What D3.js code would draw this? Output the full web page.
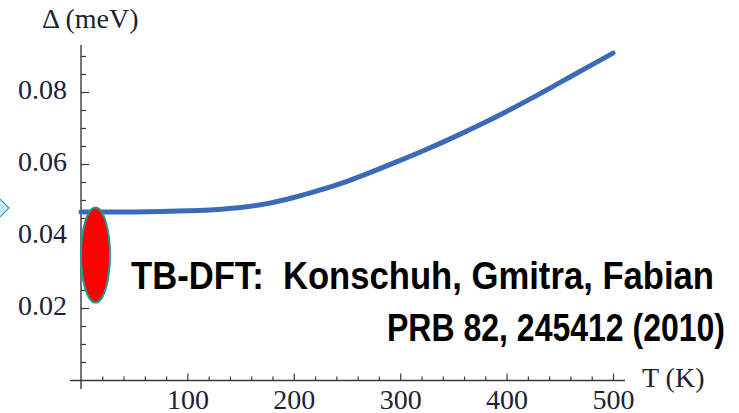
<!DOCTYPE html>
<html>
<head>
<meta charset="utf-8">
<script src="https://cdn.jsdelivr.net/npm/d3@7"></script>
<style>
  html, body { margin: 0; padding: 0; background: #fff; }
  svg { display: block; }
</style>
</head>
<body>
<svg id="chart" width="739" height="413"></svg>
<script>
// Spin-orbit gap versus temperature (tight-binding / DFT)
const temperatures = [0, 25, 50, 75, 100, 125, 150, 175, 200, 225, 250, 275, 300, 325, 350, 375, 400, 425, 450, 475, 500];
const gapValues    = [0.0467, 0.0467, 0.0467, 0.0468, 0.0470, 0.0473, 0.0479, 0.0490, 0.0507, 0.0528, 0.0552, 0.0580, 0.0610, 0.0641, 0.0674, 0.0709, 0.0746, 0.0785, 0.0826, 0.0867, 0.0908];

const xMajorTicks = [100, 200, 300, 400, 500];
const yMajorTicks = [0.02, 0.04, 0.06, 0.08];
const yTickLabels = ["0.02", "0.04", "0.06", "0.08"];

// highlighted low-temperature region (centre T, centre gap, half-width T, half-height gap)
const markerT = [13.6];
const markerGap = [0.0347];
const markerHalfT = [13.6];
const markerHalfGap = [0.0132];

const citationLines = ["TB-DFT:  Konschuh, Gmitra, Fabian", "PRB 82, 245412 (2010)"];

const svg = d3.select("#chart");

const x = d3.scaleLinear().domain([0, 500]).range([81, 613]);
const y = d3.scaleLinear().domain([0, 0.09]).range([380, 56]);

const axisColor = "#3a3a3a";
const labelColor = "#1d2236";
const serif = "'Liberation Serif', 'DejaVu Serif', serif";

// small decorative diamond at the left edge
svg.append("path")
  .attr("d", "M -2 197 L 9 208 L -2 219 L -13 208 Z")
  .attr("fill", "#c9edf8")
  .attr("stroke", "#2a9fb0")
  .attr("stroke-width", 1.2);

// axis lines, extended a little past the origin
svg.append("line")
  .attr("x1", 70).attr("x2", 625)
  .attr("y1", y(0) + 0.5).attr("y2", y(0) + 0.5)
  .attr("stroke", axisColor).attr("stroke-width", 1.4);
svg.append("line")
  .attr("x1", x(0)).attr("x2", x(0))
  .attr("y1", 45).attr("y2", 389)
  .attr("stroke", axisColor).attr("stroke-width", 1.4);

// x axis: minor ticks every 20 K, major ticks with labels every 100 K
const xMinor = d3.range(20, 501, 20).filter(v => v % 100 !== 0);
svg.append("g")
  .attr("transform", `translate(0,${y(0) + 0.5})`)
  .call(d3.axisBottom(x).tickValues(xMinor).tickSize(-4).tickFormat(""))
  .call(g => g.select(".domain").remove())
  .call(g => g.selectAll("line").attr("stroke", axisColor).attr("stroke-width", 1.2));

svg.append("g")
  .attr("transform", `translate(0,${y(0) + 0.5})`)
  .call(d3.axisBottom(x).tickValues(xMajorTicks).tickSizeInner(-7).tickSizeOuter(0).tickPadding(9).tickFormat(d3.format("d")))
  .call(g => g.select(".domain").remove())
  .call(g => g.selectAll("line").attr("stroke", axisColor).attr("stroke-width", 1.2))
  .call(g => g.selectAll("text")
    .attr("fill", labelColor)
    .style("font-family", serif)
    .style("font-size", "28px"));

// y axis: minor ticks every 0.005, labelled ticks every 0.02
const yMinor = d3.range(1, 19).map(i => i * 0.005).filter(v => Math.abs(Math.round(v * 50) - v * 50) > 1e-6);
svg.append("g")
  .attr("transform", `translate(${x(0)},0)`)
  .call(d3.axisLeft(y).tickValues(yMinor).tickSize(-5).tickFormat(""))
  .call(g => g.select(".domain").remove())
  .call(g => g.selectAll("line").attr("stroke", axisColor).attr("stroke-width", 1.2));

svg.append("g")
  .attr("transform", `translate(${x(0)},0)`)
  .call(d3.axisLeft(y).tickValues(yMajorTicks).tickSizeInner(-8).tickSizeOuter(0).tickPadding(14)
    .tickFormat((d, i) => yTickLabels[i]))
  .call(g => g.select(".domain").remove())
  .call(g => g.selectAll("line").attr("stroke", axisColor).attr("stroke-width", 1.2))
  .call(g => g.selectAll("text")
    .attr("fill", labelColor)
    .attr("dy", "0.22em")
    .style("font-family", serif)
    .style("font-size", "28px"));

// axis titles
svg.append("text")
  .attr("x", 42).attr("y", 28)
  .attr("fill", labelColor)
  .style("font-family", serif).style("font-size", "28px")
  .text("Δ (meV)");
svg.append("text")
  .attr("x", 642).attr("y", 387)
  .attr("fill", labelColor)
  .style("font-family", serif).style("font-size", "28px")
  .text("T (K)");

// gap curve
const line = d3.line()
  .x((d, i) => x(temperatures[i]))
  .y(d => y(d))
  .curve(d3.curveCatmullRom.alpha(0.5));

svg.append("path")
  .datum(gapValues)
  .attr("d", line)
  .attr("fill", "none")
  .attr("stroke", "#3b6bb7")
  .attr("stroke-width", 5)
  .attr("stroke-linecap", "round");

// low-temperature marker
svg.append("ellipse")
  .attr("cx", x(markerT[0]))
  .attr("cy", y(markerGap[0]))
  .attr("rx", x(markerHalfT[0]) - x(0))
  .attr("ry", y(0) - y(markerHalfGap[0]))
  .attr("fill", "#ff0000")
  .attr("stroke", "#1f9a9a")
  .attr("stroke-width", 2);

// citation text
const sans = "'Liberation Sans', Arial, sans-serif";
svg.append("text")
  .attr("x", 131).attr("y", 289)
  .attr("fill", "#000")
  .style("font-family", sans).style("font-weight", "bold").style("font-size", "39px")
  .style("white-space", "pre")
  .attr("textLength", 583).attr("lengthAdjust", "spacingAndGlyphs")
  .text(citationLines[0]);

svg.append("text")
  .attr("x", 387).attr("y", 341)
  .attr("fill", "#000")
  .style("font-family", sans).style("font-weight", "bold").style("font-size", "39px")
  .style("white-space", "pre")
  .attr("textLength", 338).attr("lengthAdjust", "spacingAndGlyphs")
  .text(citationLines[1]);
</script>
</body>
</html>
